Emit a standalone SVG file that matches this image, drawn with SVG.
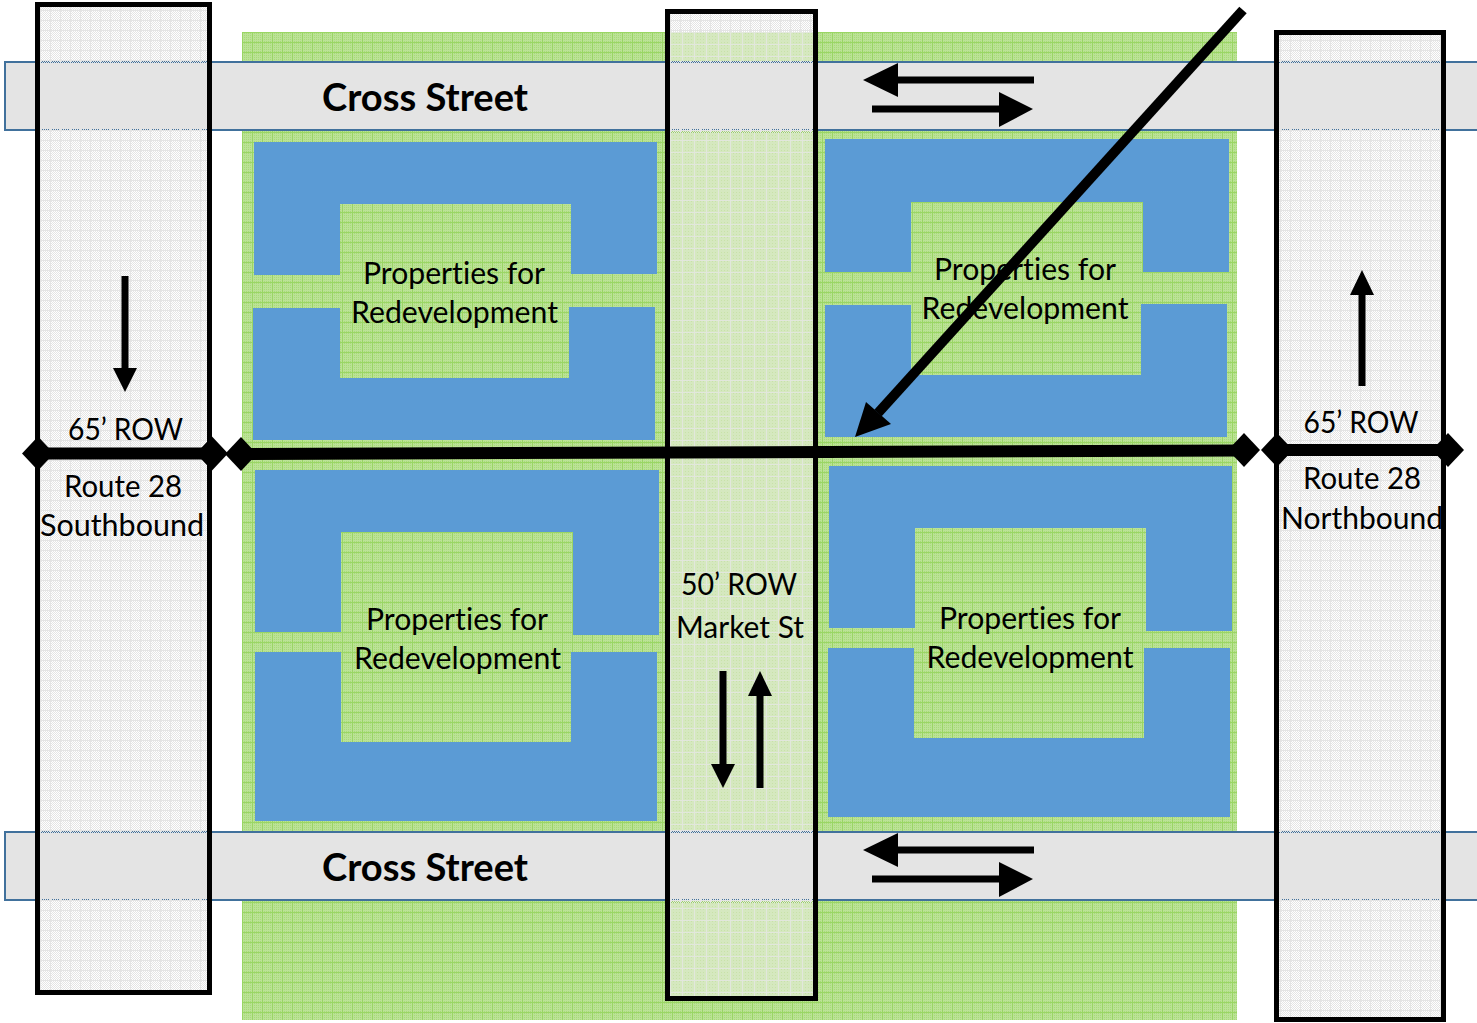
<svg xmlns="http://www.w3.org/2000/svg" width="1477" height="1023" viewBox="0 0 1477 1023">
<style>
.t{font-family:Lato,"Liberation Sans",sans-serif;font-size:30px;fill:#000;text-anchor:middle;font-variant-ligatures:none}
.b{font-family:Lato,"Liberation Sans",sans-serif;font-size:38px;font-weight:700;fill:#000;text-anchor:middle;font-variant-ligatures:none}
.blue{fill:#5b9bd5}
.band{fill:#e4e4e4;stroke:#41719c;stroke-width:2}
.road{fill:url(#dots);stroke:#000;stroke-width:5}
.k{fill:#000}
</style>
<defs>
<pattern id="grass" width="10" height="10" patternUnits="userSpaceOnUse" x="242" y="32">
<rect width="10" height="10" fill="#bbe296"/>
<path d="M0 1.500h10M0 3.500h10M0 5.500h10M0 7.500h10M0 9.500h10" stroke="#a8da78" stroke-width="1" stroke-dasharray="1 1"/>
<path d="M0 .5h10M.5 0v10" stroke="#9ad664" stroke-width="1"/>
</pattern>
<pattern id="dots" width="10" height="10" patternUnits="userSpaceOnUse">
<path d="M0 0h1v1h-1zM2 0h1v1h-1zM4 0h1v1h-1zM6 0h1v1h-1zM8 0h1v1h-1zM1 1h1v1h-1zM3 1h1v1h-1zM5 1h1v1h-1zM7 1h1v1h-1zM9 1h1v1h-1zM0 2h1v1h-1zM2 2h1v1h-1zM4 2h1v1h-1zM6 2h1v1h-1zM8 2h1v1h-1zM1 3h1v1h-1zM3 3h1v1h-1zM5 3h1v1h-1zM7 3h1v1h-1zM9 3h1v1h-1zM0 4h1v1h-1zM2 4h1v1h-1zM4 4h1v1h-1zM6 4h1v1h-1zM8 4h1v1h-1zM1 5h1v1h-1zM3 5h1v1h-1zM5 5h1v1h-1zM7 5h1v1h-1zM9 5h1v1h-1zM0 6h1v1h-1zM2 6h1v1h-1zM4 6h1v1h-1zM6 6h1v1h-1zM8 6h1v1h-1zM1 7h1v1h-1zM3 7h1v1h-1zM5 7h1v1h-1zM7 7h1v1h-1zM9 7h1v1h-1zM0 8h1v1h-1zM2 8h1v1h-1zM4 8h1v1h-1zM6 8h1v1h-1zM8 8h1v1h-1zM1 9h1v1h-1zM3 9h1v1h-1zM5 9h1v1h-1zM7 9h1v1h-1zM9 9h1v1h-1z" fill="#e4e4e4"/>
<path d="M0 .5h10M.5 0v10" stroke="#e4e4e4" stroke-width="1"/>
</pattern>
<pattern id="mk" width="12" height="12" patternUnits="userSpaceOnUse" x="670" y="32">
<rect width="12" height="12" fill="#d5e8bf"/>
<path d="M0 1.500h12M0 4.500h12M0 7.500h12M0 10.500h12" stroke="#c8e2a8" stroke-width="1" stroke-dasharray="1 2"/>
<path d="M0 .5h12M.5 0v12" stroke="#e2e7dc" stroke-width="1"/>
</pattern>
</defs>
<g id="site"><rect x="242" y="32" width="995" height="988" fill="url(#grass)"/></g>
<g id="properties-nw">
<path class="blue" d="M254 142H657V274H571V204H340V275H254Z"/>
<path class="blue" d="M253 308H340V378H569V307H655V440H253Z"/>
<text class="t" x="454" y="284" textLength="182" lengthAdjust="spacingAndGlyphs">Properties for</text>
<text class="t" x="454.500" y="323" textLength="207" lengthAdjust="spacingAndGlyphs">Redevelopment</text>
</g>
<g id="properties-ne">
<path class="blue" d="M825 139H1229V272H1143V202H911V272H825Z"/>
<path class="blue" d="M825 305H911V375H1141V304H1227V437H825Z"/>
<text class="t" x="1025" y="280" textLength="182" lengthAdjust="spacingAndGlyphs">Properties for</text>
<text class="t" x="1025" y="319" textLength="207" lengthAdjust="spacingAndGlyphs">Redevelopment</text>
</g>
<g id="properties-sw">
<path class="blue" d="M255 470H659V635H573V532H341V632H255Z"/>
<path class="blue" d="M255 652H341V742H571V652H657V821H255Z"/>
<text class="t" x="457" y="630" textLength="182" lengthAdjust="spacingAndGlyphs">Properties for</text>
<text class="t" x="457.500" y="669" textLength="207" lengthAdjust="spacingAndGlyphs">Redevelopment</text>
</g>
<g id="properties-se">
<path class="blue" d="M829 466H1232V631H1146V528H915V628H829Z"/>
<path class="blue" d="M828 648H914V738H1144V648H1230V817H828Z"/>
<text class="t" x="1030" y="629" textLength="182" lengthAdjust="spacingAndGlyphs">Properties for</text>
<text class="t" x="1030" y="668" textLength="207" lengthAdjust="spacingAndGlyphs">Redevelopment</text>
</g>
<g id="cross-street-north">
<rect class="band" x="5" y="62" width="1480" height="68"/>
<text class="b" x="425" y="111" textLength="206" lengthAdjust="spacingAndGlyphs">Cross Street</text>
</g>
<g id="cross-street-south">
<rect class="band" x="5" y="832" width="1480" height="68"/>
<text class="b" x="425" y="881" textLength="206" lengthAdjust="spacingAndGlyphs">Cross Street</text>
</g>
<g id="route-28-southbound">
<rect class="road" x="37.500" y="4.500" width="172" height="988"/>
<text class="t" x="125.500" y="440" textLength="115" lengthAdjust="spacingAndGlyphs">65’ ROW</text>
<text class="t" x="123" y="497" textLength="118" lengthAdjust="spacingAndGlyphs">Route 28</text>
<text class="t" x="122" y="536" textLength="164" lengthAdjust="spacingAndGlyphs">Southbound</text>
</g>
<g id="market-st">
<rect class="road" x="667.500" y="11.500" width="148" height="987"/>
<path d="M670 32H813V61H670ZM670 133H813V830H670ZM670 903H813V996H670Z" fill="url(#mk)"/>
<text class="t" x="739" y="595" textLength="116" lengthAdjust="spacingAndGlyphs">50’ ROW</text>
<text class="t" x="740" y="638" textLength="128" lengthAdjust="spacingAndGlyphs">Market St</text>
</g>
<g id="route-28-northbound">
<rect class="road" x="1276.500" y="32.500" width="167" height="987"/>
<text class="t" x="1361" y="433" textLength="115" lengthAdjust="spacingAndGlyphs">65’ ROW</text>
<text class="t" x="1362" y="489" textLength="118" lengthAdjust="spacingAndGlyphs">Route 28</text>
<text class="t" x="1362" y="529" textLength="162" lengthAdjust="spacingAndGlyphs">Northbound</text>
</g>
<g id="connectors">
<path d="M38 453.500H211" stroke="#000" stroke-width="12"/>
<path class="k" d="M38 436.500L54 453.500L38 470.500L22 453.500Z"/>
<path class="k" d="M212 436.500L228 453.500L212 470.500L196 453.500Z"/>
<path d="M240 454L1244 450.500" stroke="#000" stroke-width="12"/>
<path class="k" d="M241 437L257 454L241 471L225 454Z"/>
<path class="k" d="M1244 433L1260 450L1244 467L1228 450Z"/>
<path d="M1277 450H1449" stroke="#000" stroke-width="12"/>
<path class="k" d="M1277 433L1293 450L1277 467L1261 450Z"/>
<path class="k" d="M1448 433L1464 450L1448 467L1432 450Z"/>
<path d="M1243 10L878 413" stroke="#000" stroke-width="10"/>
<path class="k" d="M855 437L866 402L891 424Z"/>
<path d="M1034 80H893M872 109H1003M1034 850H893M872 879H1003M125 276V370M1362 386V293M723 671V766M760 788V694" stroke="#000" stroke-width="7" fill="none"/>
<path class="k" d="M863 80L898 63V97Z"/>
<path class="k" d="M1033 109L999 92V127Z"/>
<path class="k" d="M863 850L898 833V867Z"/>
<path class="k" d="M1033 879L999 862V897Z"/>
<path class="k" d="M125 392L113 368H137Z"/>
<path class="k" d="M1362 270L1350 295H1374Z"/>
<path class="k" d="M723 788L711 764H735Z"/>
<path class="k" d="M760 671L748 696H772Z"/>
</g>
</svg>
